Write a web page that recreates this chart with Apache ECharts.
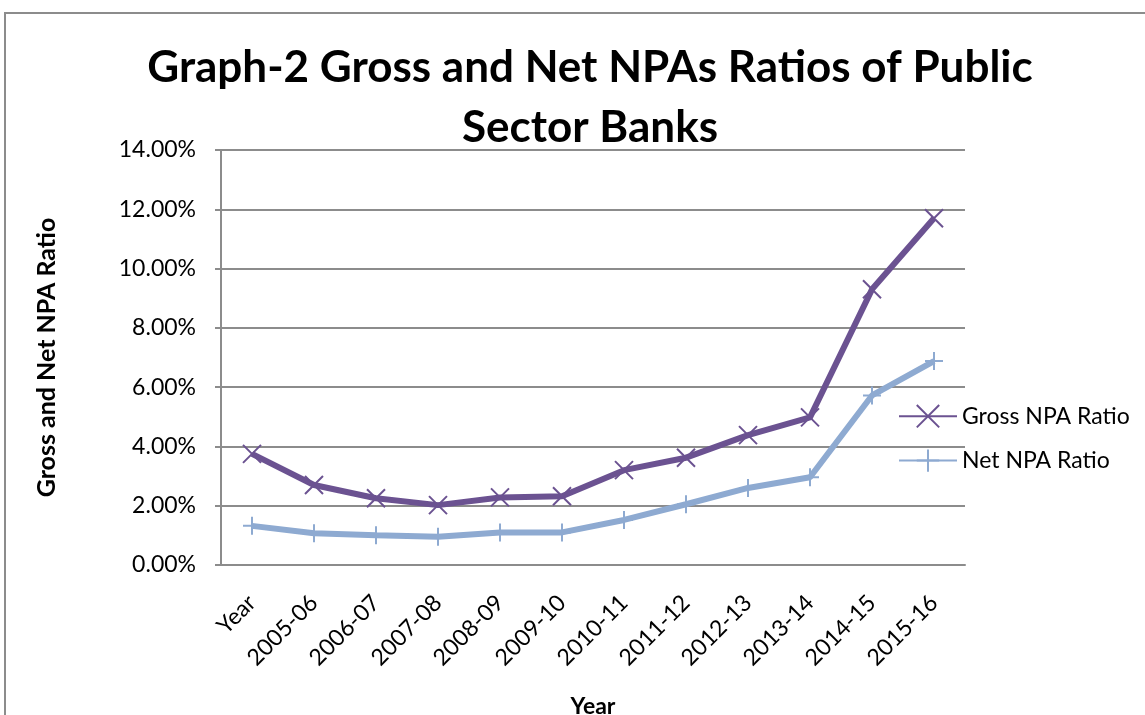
<!DOCTYPE html>
<html>
<head>
<meta charset="utf-8">
<script src="https://cdn.jsdelivr.net/npm/echarts@6/dist/echarts.min.js"></script>
<style>
  html, body { margin: 0; padding: 0; background: #fff; }
  #chart { width: 1145px; height: 715px; }
</style>
</head>
<body>
<div id="chart"></div>
<script>
// categories on the x axis
const years = ['Year', '2005-06', '2006-07', '2007-08', '2008-09', '2009-10',
  '2010-11', '2011-12', '2012-13', '2013-14', '2014-15', '2015-16'];

// ratios in percent
const grossNpa = [3.75, 2.7, 2.25, 2.02, 2.28, 2.32, 3.2, 3.62, 4.38, 4.98, 9.3, 11.7];
const netNpa = [1.32, 1.07, 1.0, 0.95, 1.1, 1.1, 1.52, 2.05, 2.6, 2.96, 5.72, 6.88];

const yTicks = [0, 2, 4, 6, 8, 10, 12, 14];

const FONT = 'Lato, "Open Sans", sans-serif';
const purple = '#6b5291';
const blue = '#8eaad1';

const chart = echarts.init(document.getElementById('chart'));

chart.setOption({
  animation: false,
  backgroundColor: '#fff',
  title: {
    text: 'Graph-2 Gross and Net NPAs Ratios of Public\nSector Banks',
    left: 585,
    textAlign: 'center',
    top: 33,
    textStyle: {
      fontFamily: FONT,
      fontWeight: 'bold',
      fontSize: 44,
      lineHeight: 60,
      color: '#000'
    }
  },
  graphic: [{
    type: 'rect',
    shape: { x: 5, y: 13, width: 1160, height: 720 },
    style: { fill: 'none', stroke: '#8c8c8c', lineWidth: 2 },
    silent: true
  }],
  legend: {
    orient: 'vertical',
    left: 893,
    top: 399,
    itemGap: 20,
    itemWidth: 58,
    itemHeight: 28,
    textStyle: { fontFamily: FONT, fontSize: 23, color: '#000' },
    data: ['Gross NPA Ratio', 'Net NPA Ratio']
  },
  grid: {
    left: 221,
    top: 150,
    right: 180,
    bottom: 150,
    containLabel: false,
    outerBoundsMode: 'none'
  },
  xAxis: {
    type: 'category',
    data: years,
    boundaryGap: true,
    name: 'Year',
    nameLocation: 'middle',
    nameGap: 130,
    nameTextStyle: { fontFamily: FONT, fontWeight: 'bold', fontSize: 23, color: '#000' },
    axisLine: { lineStyle: { color: '#8c8c8c', width: 2 } },
    axisTick: { show: false },
    axisLabel: {
      interval: 0,
      rotate: 45,
      margin: 34,
      fontFamily: FONT,
      fontSize: 23,
      color: '#000'
    }
  },
  yAxis: {
    type: 'value',
    min: 0,
    max: yTicks[yTicks.length - 1],
    interval: 2,
    name: 'Gross and Net NPA Ratio',
    nameLocation: 'middle',
    nameGap: 162,
    nameRotate: 90,
    nameTextStyle: { fontFamily: FONT, fontWeight: 'bold', fontSize: 25, color: '#000' },
    axisLine: { show: true, lineStyle: { color: '#8c8c8c', width: 2 } },
    axisTick: { show: true, length: 6, lineStyle: { color: '#8c8c8c', width: 2 } },
    splitLine: { lineStyle: { color: '#8c8c8c', width: 2 } },
    axisLabel: {
      margin: 25,
      fontFamily: FONT,
      fontSize: 23,
      color: '#000',
      formatter: v => v.toFixed(2) + '%'
    }
  },
  series: [
    {
      name: 'Gross NPA Ratio',
      type: 'line',
      data: grossNpa,
      symbol: 'path://M0,0L10,10M10,0L0,10',
      symbolSize: 18,
      showAllSymbol: true,
      lineStyle: { color: purple, width: 6 },
      itemStyle: { color: purple, borderColor: purple, borderWidth: 2 }
    },
    {
      name: 'Net NPA Ratio',
      type: 'line',
      data: netNpa,
      symbol: 'path://M5,0L5,10M0,5L10,5',
      symbolSize: 18,
      showAllSymbol: true,
      lineStyle: { color: blue, width: 6 },
      itemStyle: { color: blue, borderColor: blue, borderWidth: 2 }
    }
  ]
});
</script>
</body>
</html>
